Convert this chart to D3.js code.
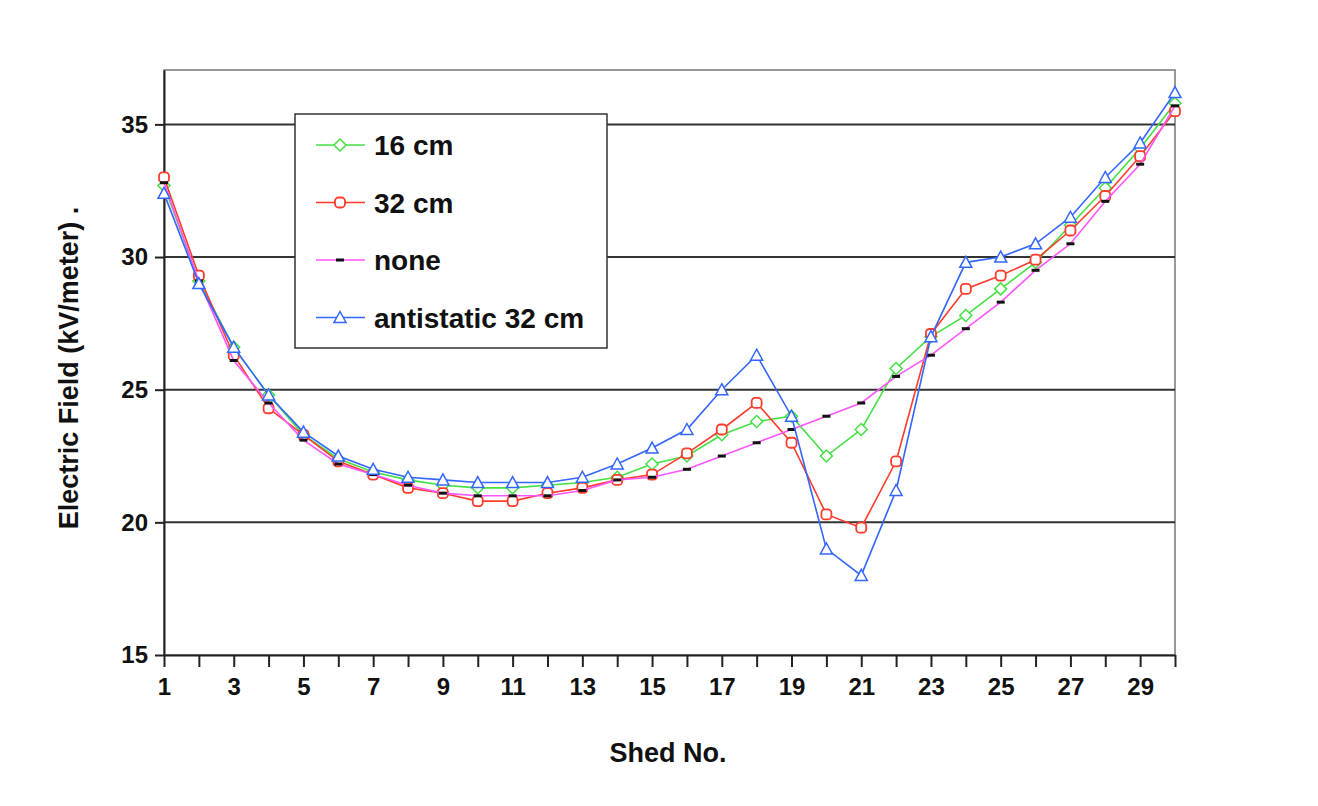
<!DOCTYPE html>
<html><head><meta charset="utf-8">
<script src="https://cdn.jsdelivr.net/npm/d3@7"></script>
<style>body{margin:0;background:#fff}text{font-family:"Liberation Sans",Arial,sans-serif;fill:#111}</style>
</head><body><svg id="c" width="1318" height="806"></svg>
<script>
const sheds = d3.range(1, 31);
const seriesNames = ["16 cm", "32 cm", "none", "antistatic 32 cm"];
const green16 = [32.7,29.1,26.6,24.8,23.3,22.4,21.9,21.6,21.4,21.3,21.3,21.4,21.5,21.7,22.2,22.5,23.3,23.8,24.0,22.5,23.5,25.8,27.0,27.8,28.8,29.8,31.2,32.6,34.1,35.8];
const red32 = [33.0,29.3,26.3,24.3,23.3,22.3,21.8,21.3,21.1,20.8,20.8,21.1,21.3,21.6,21.8,22.6,23.5,24.5,23.0,20.3,19.8,22.3,27.1,28.8,29.3,29.9,31.0,32.3,33.8,35.5];
const noneVals = [32.8,29.1,26.1,24.5,23.1,22.2,21.8,21.4,21.1,21.0,21.0,21.0,21.2,21.6,21.7,22.0,22.5,23.0,23.5,24.0,24.5,25.5,26.3,27.3,28.3,29.5,30.5,32.1,33.5,35.7];
const anti32 = [32.4,29.0,26.6,24.8,23.4,22.5,22.0,21.7,21.6,21.5,21.5,21.5,21.7,22.2,22.8,23.5,25.0,26.3,24.0,19.0,18.0,21.2,27.0,29.8,30.0,30.5,31.5,33.0,34.3,36.2];
const yTicks = [15, 20, 25, 30, 35];

const svg = d3.select("#c");
const L = 164, R = 1175, T = 70, B = 655;
const x = d3.scaleLinear().domain([1, 30]).range([L, R]);
const y = d3.scaleLinear().domain([15, 37.05]).range([B, T]);

// frame and gridlines
svg.append("rect").attr("x", L).attr("y", T).attr("width", R - L).attr("height", B - T)
    .attr("fill", "none").attr("stroke", "#777").attr("stroke-width", 1.5);
yTicks.slice(1).forEach(v => {
    svg.append("line").attr("x1", L).attr("x2", R).attr("y1", y(v)).attr("y2", y(v))
        .attr("stroke", "#333").attr("stroke-width", 2);
});

// axes
const xAxis = svg.append("g").attr("transform", `translate(0,${B})`)
    .call(d3.axisBottom(x).tickValues(sheds).tickSize(12).tickSizeOuter(0).tickFormat(d => d % 2 ? d : ""));
const yAxis = svg.append("g").attr("transform", `translate(${L},0)`)
    .call(d3.axisLeft(y).tickValues(yTicks).tickSize(9).tickSizeOuter(0).tickPadding(7));
[xAxis, yAxis].forEach(a => {
    a.select(".domain").attr("stroke", "#222").attr("stroke-width", 2);
    a.selectAll(".tick line").attr("stroke", "#222").attr("stroke-width", 2);
    a.selectAll("text").attr("font-size", 24).attr("font-weight", "bold").attr("fill", "#111");
});
xAxis.selectAll("text").attr("dy", "1.05em");

svg.append("text").attr("x", 668).attr("y", 762).attr("text-anchor", "middle")
    .attr("font-size", 27).attr("font-weight", "bold").text("Shed No.");
svg.append("text").attr("transform", "translate(78,368) rotate(-90)").attr("text-anchor", "middle")
    .attr("font-size", 27).attr("font-weight", "bold").text("Electric Field (kV/meter)  .");

const series = [
    { name: seriesNames[0], vals: green16, color: "#44e044", marker: "diamond" },
    { name: seriesNames[1], vals: red32, color: "#ff3b2b", marker: "circle" },
    { name: seriesNames[2], vals: noneVals, color: "#ff55ff", marker: "dash" },
    { name: seriesNames[3], vals: anti32, color: "#3366ff", marker: "triangle" }
];

function drawMarker(g, s, cx, cy) {
    if (s.marker === "diamond") {
        g.append("path").attr("d", `M${cx},${cy - 6}L${cx + 6},${cy}L${cx},${cy + 6}L${cx - 6},${cy}Z`)
            .attr("fill", "#fff").attr("stroke", s.color).attr("stroke-width", 1.5);
    } else if (s.marker === "circle") {
        g.append("rect").attr("x", cx - 5).attr("y", cy - 5).attr("width", 10).attr("height", 10).attr("rx", 3.5)
            .attr("fill", "#fff").attr("stroke", s.color).attr("stroke-width", 1.8);
    } else if (s.marker === "dash") {
        g.append("rect").attr("x", cx - 4).attr("y", cy - 1.5).attr("width", 8).attr("height", 3).attr("fill", "#111");
    } else {
        g.append("path").attr("d", `M${cx},${cy - 6}L${cx + 6},${cy + 5}L${cx - 6},${cy + 5}Z`)
            .attr("fill", "#fff").attr("stroke", s.color).attr("stroke-width", 1.5);
    }
}

const line = d3.line().x((d, i) => x(sheds[i])).y(d => y(d));
series.forEach(s => {
    const g = svg.append("g");
    g.append("path").datum(s.vals).attr("d", line).attr("fill", "none")
        .attr("stroke", s.color).attr("stroke-width", 1.6);
    s.vals.forEach((v, i) => drawMarker(g, s, x(sheds[i]), y(v)));
});

// legend
const lg = svg.append("g");
lg.append("rect").attr("x", 295).attr("y", 114).attr("width", 312).attr("height", 234)
    .attr("fill", "#fff").attr("stroke", "#333").attr("stroke-width", 1.5);
series.forEach((s, i) => {
    const cy = 145 + i * 57.5;
    lg.append("line").attr("x1", 316).attr("x2", 365).attr("y1", cy).attr("y2", cy)
        .attr("stroke", s.color).attr("stroke-width", 1.6);
    drawMarker(lg, s, 340, cy);
    lg.append("text").attr("x", 374).attr("y", cy + 10).attr("font-size", 28)
        .attr("font-weight", "bold").text(s.name);
});
</script></body></html>
